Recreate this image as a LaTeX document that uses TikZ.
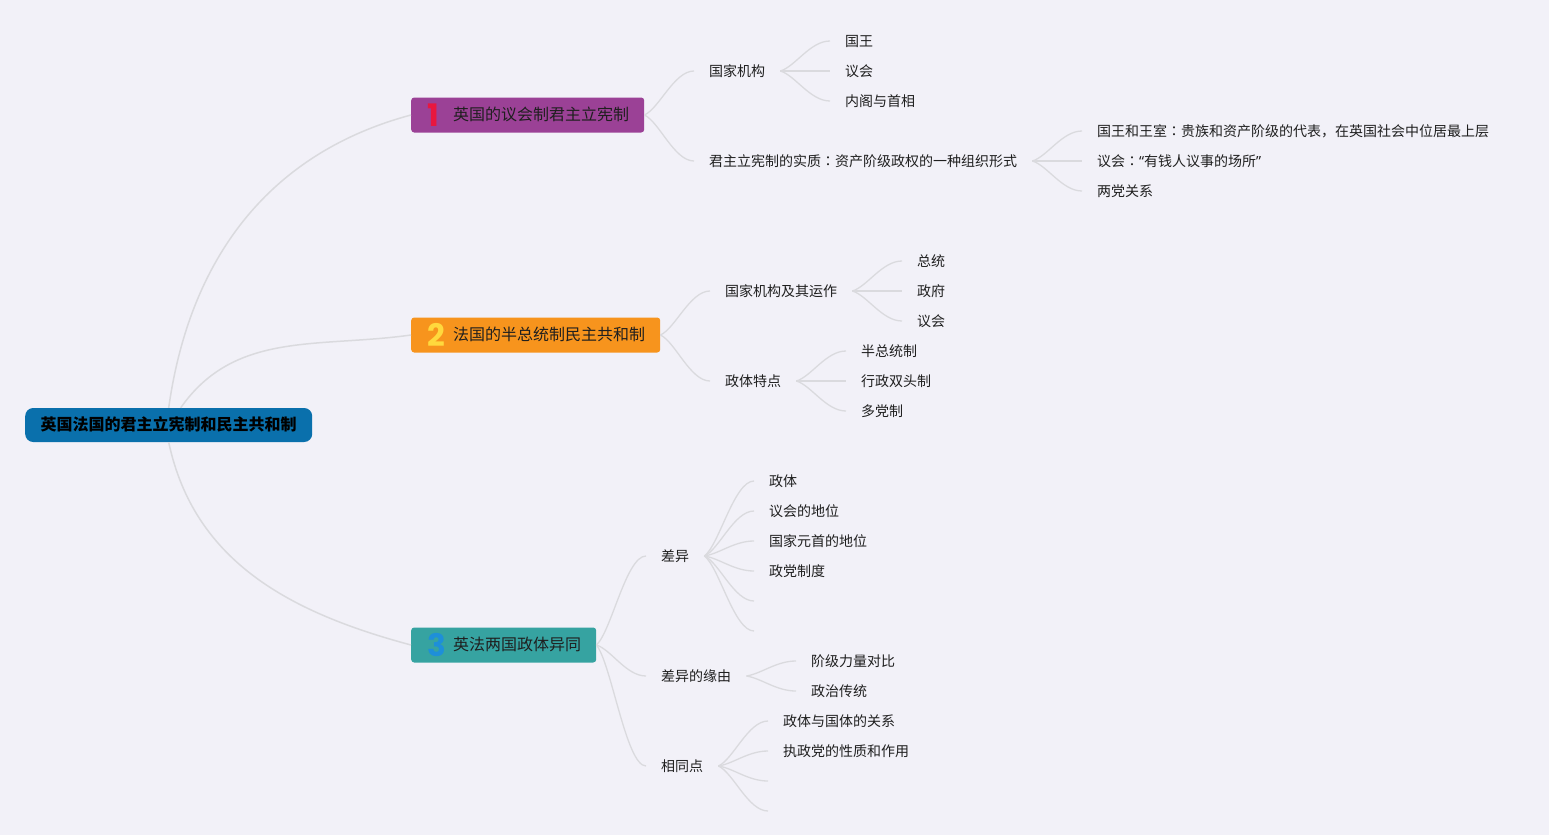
\documentclass[tikz,border=0pt]{standalone}
\usepackage{fontspec}
\setmainfont{Noto Sans CJK SC}
\newfontfamily\numfont{Poppins}
\newfontfamily\tcfont{Noto Sans CJK TC}
\newfontfamily\latinfont{Noto Sans}
\usepackage{xcolor}
\usepackage{tikz}
\usetikzlibrary{calc}

\definecolor{bgcol}{HTML}{F2F1F8}
\definecolor{linecol}{HTML}{DADADE}
\definecolor{rootblue}{HTML}{0A70AC}
\definecolor{ukpurple}{HTML}{9B4196}
\definecolor{frorange}{HTML}{F7941D}
\definecolor{cmpteal}{HTML}{36A3A1}
\definecolor{numred}{HTML}{E8173F}
\definecolor{numyellow}{HTML}{FFD93D}
\definecolor{numblue}{HTML}{1E8FD9}
\definecolor{txt}{HTML}{1F1F1F}

\newcommand\bignum[2]{\makebox[27pt][l]{\hspace{1pt}\raisebox{-6pt}{\numfont\bfseries\fontsize{31}{31}\selectfont\color{#1}#2}}}
\newcommand\zhcolon{{\tcfont ：}}

\begin{document}
\begin{tikzpicture}[x=1pt, y=1pt,
  root/.style={anchor=west, fill=rootblue, rounded corners=8pt, text=black,
    font=\bfseries\fontsize{16}{16}\selectfont, text height=13pt, text depth=2pt,
    inner xsep=15.5pt, inner ysep=9.5pt},
  topic/.style={anchor=west, rounded corners=3pt, text=txt,
    font=\fontsize{16}{16}\selectfont, text height=13pt, text depth=2pt,
    inner xsep=15pt, inner ysep=10pt},
  sub/.style={anchor=west, text=txt, font=\fontsize{14}{14}\selectfont,
    inner xsep=15pt, inner ysep=3pt},
  trunk/.style={draw=linecol, line width=1.5pt},
  link/.style={draw=linecol, line width=1.3pt,
    to path={let \p1=(\tikztostart), \p2=(\tikztotarget) in
      .. controls ({\x1+0.3*(\x2-\x1)},{\y1+0.15*(\y2-\y1)})
      and ({\x1+0.6*(\x2-\x1)},\y2) .. (\tikztotarget)}}]

\fill[bgcol] (0,0) rectangle (1549,-835);
\useasboundingbox (0,0) rectangle (1549,-835);

% root and main topics
\node[root] (root) at (25,-425) {英国法国的君主立宪制和民主共和制};
\node[topic, fill=ukpurple] (uk) at (411,-115) {\bignum{numred}{1}英国的议会制君主立宪制};
\node[topic, fill=frorange] (fr) at (411,-335) {\bignum{numyellow}{2}法国的半总统制民主共和制};
\node[topic, fill=cmpteal] (cmp) at (411,-645) {\bignum{numblue}{3}英法两国政体异同};

\draw[trunk] (root.north) to[out=82,in=195] (uk.west);
\draw[trunk] ([xshift=12pt]root.north) to[out=55,in=188] (fr.west);
\draw[trunk] (root.south) to[out=-78,in=165] (cmp.west);

% 1
\node[sub] (ukorg) at (694,-71) {国家机构};
\node[sub] (ukess) at (694,-161) {君主立宪制的实质\zhcolon 资产阶级政权的一种组织形式};
\node[sub] (king) at (830,-41) {国王};
\node[sub] (ukparl) at (830,-71) {议会};
\node[sub] (cabinet) at (830,-101) {内阁与首相};
\node[sub] (royal) at (1082,-131) {国王和王室\zhcolon 贵族和资产阶级的代表，在英国社会中位居最上层};
\node[sub] (rich) at (1082,-161) {议会\zhcolon{\latinfont “}有钱人议事的场所{\latinfont ”}};
\node[sub] (twoparty) at (1082,-191) {两党关系};

\path[link] (uk.east) edge (ukorg.west) edge (ukess.west)
  (ukorg.east) edge (king.west) edge (ukparl.west) edge (cabinet.west)
  (ukess.east) edge (royal.west) edge (rich.west) edge (twoparty.west);

% 2
\node[sub] (frorg) at (710,-291) {国家机构及其运作};
\node[sub] (frfeat) at (710,-381) {政体特点};
\node[sub] (pres) at (902,-261) {总统};
\node[sub] (gov) at (902,-291) {政府};
\node[sub] (frparl) at (902,-321) {议会};
\node[sub] (semi) at (846,-351) {半总统制};
\node[sub] (dual) at (846,-381) {行政双头制};
\node[sub] (multi) at (846,-411) {多党制};

\path[link] (fr.east) edge (frorg.west) edge (frfeat.west)
  (frorg.east) edge (pres.west) edge (gov.west) edge (frparl.west)
  (frfeat.east) edge (semi.west) edge (dual.west) edge (multi.west);

% 3
\node[sub] (diff) at (646,-556) {差异};
\node[sub] (cause) at (646,-676) {差异的缘由};
\node[sub] (same) at (646,-766) {相同点};
\node[sub] (regime) at (754,-481) {政体};
\node[sub] (parlpos) at (754,-511) {议会的地位};
\node[sub] (headpos) at (754,-541) {国家元首的地位};
\node[sub] (party) at (754,-571) {政党制度};
\coordinate (diff5) at (754,-601);
\coordinate (diff6) at (754,-631);
\node[sub] (classes) at (796,-661) {阶级力量对比};
\node[sub] (tradition) at (796,-691) {政治传统};
\node[sub] (state) at (768,-721) {政体与国体的关系};
\node[sub] (ruling) at (768,-751) {执政党的性质和作用};
\coordinate (same3) at (768,-781);
\coordinate (same4) at (768,-811);

\path[link] (cmp.east) edge (diff.west) edge (cause.west) edge (same.west)
  (diff.east) edge (regime.west) edge (parlpos.west) edge (headpos.west)
    edge (party.west) edge (diff5) edge (diff6)
  (cause.east) edge (classes.west) edge (tradition.west)
  (same.east) edge (state.west) edge (ruling.west) edge (same3) edge (same4);
\end{tikzpicture}
\end{document}
